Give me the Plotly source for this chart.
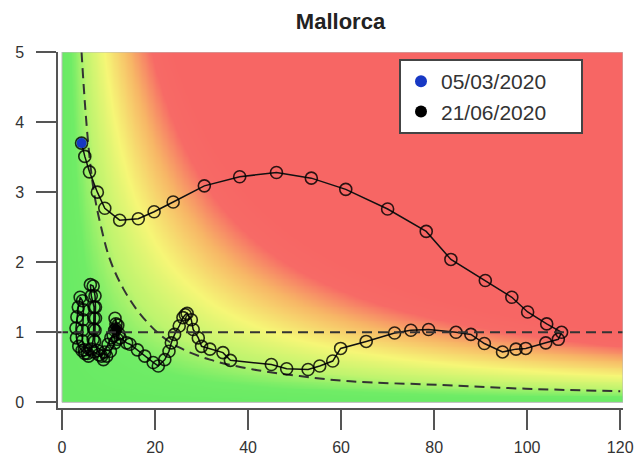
import numpy as np
import plotly.graph_objects as go

# ---------------- data ----------------
# daily trajectory: x = incidence (cases per 100k, 14 days), y = rho7
traj_x = [4.2, 4.9, 5.9, 7.6, 9.2, 12.4, 16.4, 19.8, 23.9, 30.6, 38.2, 46.1, 53.6, 61.0,
          70.0, 78.3, 83.6, 91.0, 96.7, 100.1, 104.2, 107.4,
          106.7, 104.0, 99.7, 97.6, 94.7, 90.8, 87.9, 84.7, 78.8, 75.0, 71.5, 65.4, 59.9,
          58.2, 55.4, 52.9, 48.3, 45.0, 36.2, 34.6, 31.8, 30.0, 29.3, 28.2, 27.8, 26.9,
          26.5, 26.0, 25.2, 24.2, 23.5, 23.0, 22.1, 20.7, 19.6, 17.8, 16.2, 14.6, 13.9, 12.5,
          11.4, 10.4, 9.6, 8.9, 7.9, 6.9, 5.7, 4.9, 4.3, 3.6, 3.1, 3.0, 3.2, 3.5, 3.9,
          4.4, 4.6, 4.5, 4.4, 4.4, 4.8, 5.5, 6.3, 6.7, 6.8, 6.8, 6.9, 6.3, 6.1, 6.7, 7.1,
          7.2, 7.2, 7.1, 7.0, 7.6, 8.5, 9.2, 9.9, 10.5, 11.0, 11.3, 11.6, 11.4, 12.0, 12.2,
          11.9, 11.6]
traj_y = [3.70, 3.51, 3.29, 3.00, 2.77, 2.60, 2.62, 2.72, 2.86, 3.09, 3.22, 3.28, 3.20, 3.04,
          2.76, 2.44, 2.04, 1.74, 1.50, 1.29, 1.12, 1.00,
          0.90, 0.85, 0.77, 0.76, 0.72, 0.84, 0.97, 1.00, 1.04, 1.03, 0.99, 0.87, 0.77,
          0.59, 0.52, 0.47, 0.48, 0.54, 0.60, 0.71, 0.76, 0.80, 0.92, 1.04, 1.18, 1.27,
          1.25, 1.21, 1.09, 0.97, 0.85, 0.73, 0.61, 0.52, 0.57, 0.66, 0.75, 0.83, 0.85, 0.92,
          0.85, 0.73, 0.66, 0.61, 0.68, 0.72, 0.66, 0.70, 0.74, 0.80, 0.92, 1.06, 1.22, 1.36, 1.50,
          1.45, 1.32, 1.18, 1.03, 0.88, 0.75, 0.70, 0.76, 0.90, 1.05, 1.20, 1.36, 1.52, 1.68, 1.66, 1.52,
          1.36, 1.20, 1.03, 0.87, 0.74, 0.66, 0.72, 0.83, 0.92, 0.95, 1.03, 1.12, 1.20, 1.10, 0.98,
          0.90, 1.05]

start_label = "05/03/2020"
end_label = "21/06/2020"

# dashed risk-threshold curve
curve_x = [4.2, 5.0, 6.0, 7.0, 8.2, 10.3, 13.2, 16.7, 21.0, 25.3, 31.8, 41.1, 51.1, 62.0,
           81.1, 99.7, 120.0]
curve_y = [5.00, 4.20, 3.45, 2.95, 2.56, 2.04, 1.62, 1.27, 0.97, 0.78, 0.61, 0.47, 0.375, 0.30,
           0.25, 0.195, 0.16]

threshold_rho = 1.0

x_ticks = [0, 20, 40, 60, 80, 100, 120]
y_ticks = [0, 1, 2, 3, 4, 5]

# background risk field (EPG = incidence x rho)
X_MAX, Y_MAX = 120.6, 5.0
nx, ny = 241, 201
dx, dy = X_MAX / nx, Y_MAX / ny
gx = np.linspace(dx / 2, X_MAX - dx / 2, nx)
gy = np.linspace(dy / 2, Y_MAX - dy / 2, ny)
GX, GY = np.meshgrid(gx, gy)
Z = np.clip(GX * GY, 0, 120)

colorscale = [
    [0.00, "rgb(104,234,100)"],
    [0.08, "rgb(112,236,102)"],
    [0.20, "rgb(190,244,110)"],
    [0.38, "rgb(246,246,118)"],
    [0.60, "rgb(247,182,102)"],
    [0.80, "rgb(247,106,102)"],
    [1.00, "rgb(247,102,100)"],
]

FONT = "Liberation Sans, Arial, sans-serif"
PAD = "\u00a0" * 5  # widens the legend box like the reference

fig = go.Figure()
fig.add_trace(go.Heatmap(x=gx, y=gy, z=Z, zmin=0, zmax=120, colorscale=colorscale,
                         zsmooth="best", showscale=False, hoverinfo="skip"))

fig.add_trace(go.Scatter(x=curve_x, y=curve_y, mode="lines", line_shape="spline",
                         line=dict(color="#333333", width=2, dash="10px,6px"),
                         showlegend=False, hoverinfo="skip"))

fig.add_hline(y=threshold_rho, line=dict(color="#333333", width=2, dash="10px,6px"))

fig.add_trace(go.Scatter(x=traj_x, y=traj_y, mode="lines+markers",
                         line=dict(color="#111111", width=1.5),
                         marker=dict(symbol="circle-open", size=12, color="rgba(0,0,0,0.82)",
                                     line=dict(width=1.6)),
                         showlegend=False))

fig.add_trace(go.Scatter(x=[traj_x[0]], y=[traj_y[0]], mode="markers", name=start_label + PAD,
                         marker=dict(color="#1738c4", size=10)))
fig.add_trace(go.Scatter(x=[traj_x[-1]], y=[traj_y[-1]], mode="markers", name=end_label + PAD,
                         marker=dict(color="#000000", size=10)))

# light frame around the coloured field
fig.add_shape(type="rect", x0=0, x1=X_MAX, y0=0, y1=Y_MAX, xref="x", yref="y",
              line=dict(color="#bbbbbb", width=1), layer="above")

fig.update_layout(
    width=644, height=459,
    margin=dict(l=58, r=21, t=52, b=51, autoexpand=False),
    paper_bgcolor="white", plot_bgcolor="white",
    font=dict(family=FONT, color="#333333"),
    title=dict(text="Mallorca", x=0.5, xref="paper", xanchor="center",
               y=1 - 21 / 459, yanchor="middle",
               font=dict(family=FONT, size=22, weight=700, color="#222222")),
    legend=dict(x=(399 - 58) / 565, y=(408 - 59) / 356, xanchor="left", yanchor="top",
                bgcolor="white", bordercolor="#444444", borderwidth=2,
                font=dict(family=FONT, size=21, color="#333333"),
                itemsizing="constant"),
)
fig.update_xaxes(range=[-0.86, X_MAX], tickvals=x_ticks, showgrid=False, zeroline=False,
                 showline=True, linecolor="#555555", linewidth=1.5, automargin=False,
                 ticks="outside", ticklen=20, tickwidth=2, tickcolor="#555555",
                 tickfont=dict(size=16, color="#333333"), ticklabelstandoff=4)
fig.update_yaxes(range=[-0.08, Y_MAX], tickvals=y_ticks, showgrid=False, zeroline=False,
                 showline=True, linecolor="#555555", linewidth=1.5, automargin=False,
                 ticks="outside", ticklen=20, tickwidth=2, tickcolor="#555555",
                 tickfont=dict(size=16, color="#333333"), ticklabelstandoff=9)

fig.write_html("out.html")
